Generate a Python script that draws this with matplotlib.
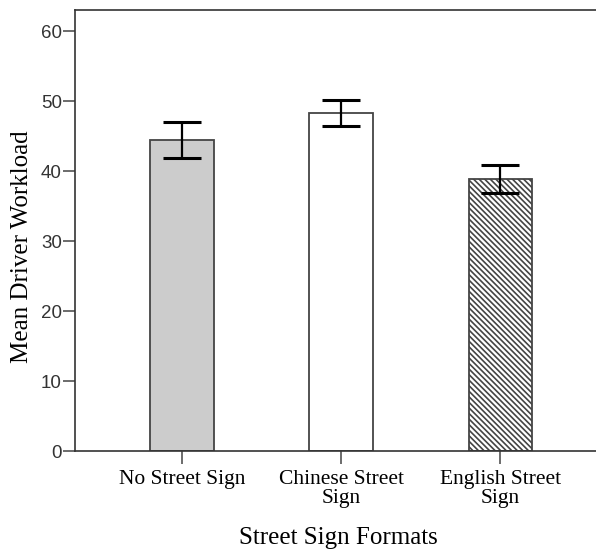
import matplotlib
matplotlib.use("Agg")
import matplotlib.pyplot as plt

categories = ["No Street Sign", "Chinese Street\nSign", "English Street\nSign"]
means = [44.4, 48.3, 38.8]
err_low = [41.9, 46.5, 36.9]
err_high = [47.0, 50.1, 40.9]
yticks = [0, 10, 20, 30, 40, 50, 60]

fills = ["#cccccc", "#ffffff", "#ffffff"]
hatches = [None, None, "\\\\\\\\\\\\"]

plt.rcParams['hatch.linewidth'] = 1.2
plt.rcParams['hatch.color'] = '#333333'

W, H = 596, 551
fig = plt.figure(figsize=(W / 100, H / 100), dpi=100)
ax = fig.add_axes([75 / W, (H - 451) / H, (W - 75) / W, 441 / H])

x = list(range(len(categories)))
for i in x:
    ax.bar(i, means[i], width=0.4, color=fills[i], edgecolor="#444444",
           linewidth=1.3, hatch=hatches[i], zorder=2)

yerr = [[m - lo for m, lo in zip(means, err_low)],
        [hi - m for m, hi in zip(means, err_high)]]
ax.errorbar(x, means, yerr=yerr, fmt="none", ecolor="black",
            elinewidth=1.6, capsize=13.7, capthick=2.2, zorder=3)

ax.set_xlim(-0.671, 2.60)
ax.set_ylim(0, 63)
ax.set_yticks(yticks)
ax.set_yticklabels([str(t) for t in yticks], fontsize=13.5,
                   family="Liberation Sans", color="#333333")
ax.set_xticks(x)
ax.set_xticklabels(categories, fontsize=15.5, family="Liberation Serif",
                   linespacing=1.0)
ax.tick_params(axis="y", length=8.5, width=1.1, color="#444444", pad=1)
ax.tick_params(axis="x", length=9.5, width=1.1, color="#444444", pad=4)

for s in ["left", "bottom", "top"]:
    ax.spines[s].set_color("#333333")
    ax.spines[s].set_linewidth(1.2)
ax.spines["right"].set_visible(False)

fig.text(338 / W, 1 - 538 / H, "Street Sign Formats", ha="center", va="center",
         fontsize=18, family="Liberation Serif")
fig.text(22 / W, 1 - 247 / H, "Mean Driver Workload", ha="center", va="center",
         rotation=90, fontsize=18, family="Liberation Serif")

fig.savefig("out.png", dpi=100)
